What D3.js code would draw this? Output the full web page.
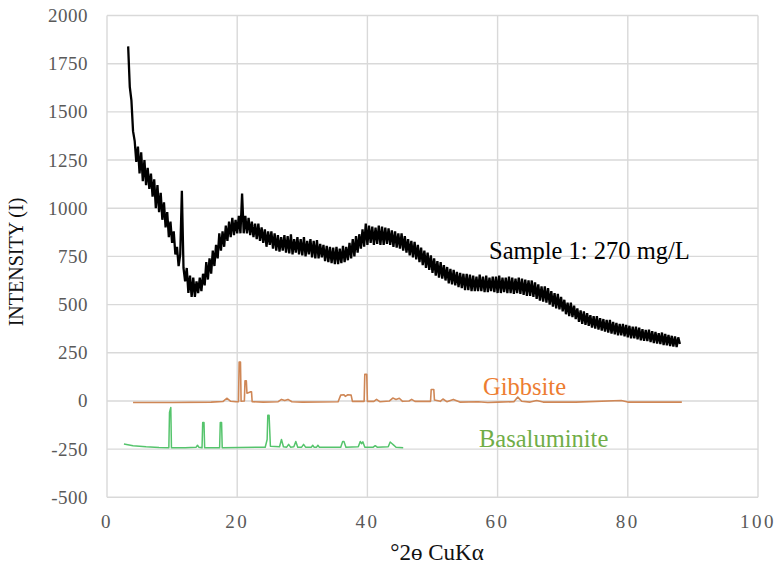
<!DOCTYPE html>
<html>
<head>
<meta charset="utf-8">
<script src="https://cdn.jsdelivr.net/npm/d3@7"></script>
<style>
	body { margin: 0; background: #fff; }
	svg { display: block; font-family: "Liberation Serif", "Times New Roman", serif; }
	.grid line { stroke: #d9d9d9; stroke-width: 1.4; }
	.tick-label { fill: #595959; font-size: 19px; font-family: "Liberation Serif", serif; }
</style>
</head>
<body>
<div id="chart"></div>
<script>
// x ticks / y ticks
var xTicks = [0, 20, 40, 60, 80, 100]
var yTicks = [-500, -250, 0, 250, 500, 750, 1000, 1250, 1500, 1750, 2000]

// Sample 1 trace, sampled every 0.25 deg from 3.25
var sampleStart = 3.25
var sampleStep = 0.25
var sampleIntensity = [
	1840, 1630, 1560, 1400, 1350, 1240, 1320, 1180,
	1290, 1140, 1250, 1120, 1210, 1100, 1180, 1060,
	1150, 1000, 1120, 980, 1080, 940, 1030, 900,
	980, 850, 930, 820, 880, 760, 800, 700,
	760, 1090, 690, 620, 690, 560, 650, 540,
	640, 540, 620, 560, 640, 570, 660, 600,
	720, 630, 740, 660, 780, 700, 810, 740,
	870, 780, 880, 800, 910, 830, 930, 850,
	950, 860, 940, 870, 960, 870, 1076, 870,
	960, 870, 950, 860, 930, 850, 920, 840,
	920, 830, 900, 820, 890, 800, 880, 810,
	880, 790, 870, 780, 860, 775, 850, 780,
	860, 770, 855, 765, 865, 760, 840, 770,
	850, 760, 840, 755, 850, 750, 830, 760,
	840, 745, 830, 740, 835, 740, 815, 745,
	810, 725, 805, 720, 800, 715, 795, 710,
	800, 710, 790, 715, 805, 720, 800, 730,
	820, 740, 840, 750, 855, 770, 865, 790,
	890, 800, 920, 810, 910, 820, 905, 810,
	900, 815, 910, 810, 905, 810, 900, 815,
	895, 810, 885, 800, 880, 795, 870, 790,
	870, 780, 855, 770, 840, 755, 830, 745,
	825, 735, 810, 720, 795, 705, 780, 690,
	770, 680, 755, 665, 740, 650, 725, 640,
	720, 635, 705, 625, 695, 610, 685, 605,
	680, 600, 670, 590, 665, 585, 660, 575,
	660, 575, 655, 570, 650, 570, 645, 570,
	655, 570, 645, 565, 650, 565, 640, 570,
	645, 565, 645, 560, 650, 560, 640, 565,
	640, 560, 645, 560, 640, 555, 635, 560,
	640, 555, 635, 550, 630, 545, 625, 545,
	625, 540, 615, 530, 605, 520, 595, 515,
	595, 510, 585, 500, 570, 490, 560, 480,
	555, 475, 540, 465, 525, 450, 510, 440,
	510, 435, 495, 425, 480, 410, 470, 400,
	465, 395, 455, 390, 445, 380, 440, 375,
	440, 370, 430, 365, 425, 360, 420, 355,
	420, 350, 410, 345, 405, 340, 400, 340,
	400, 335, 395, 330, 390, 325, 385, 325,
	385, 320, 380, 315, 372, 312, 368, 310,
	370, 305, 362, 300, 358, 298, 352, 295,
	355, 290, 348, 288, 342, 285, 338, 282,
	335, 280, 330, 295
]

// Gibbsite reference pattern
var gibbsiteAngle = [4.0, 10, 16, 17.8, 18.4, 19.0, 19.8, 20.2, 20.3, 20.5, 20.6, 21.1, 21.2, 21.4, 21.5, 21.9, 22.0, 22.2, 22.3, 24,
	26.3, 26.8, 27.3, 27.8, 28.4, 30, 35.5, 35.9, 36.4, 36.6, 37.0, 37.5, 37.7, 39.5, 39.6, 39.9, 40.0, 41.0, 41.4, 41.9,
	43.4, 43.9, 44.4, 44.9, 45.4, 46.4, 46.8, 47.3, 49.7, 49.8, 50.2, 50.3, 51.2, 51.6, 52.2, 53.2, 54.2, 57, 58.5, 60,
	62.5, 63.1, 63.7, 65, 66, 67, 72, 79, 80, 88.3]
var gibbsiteIntensity = [-8, -8, -6, -3, 14, -2, -4, -4, 202, 202, -2, 0, 104, 104, 40, 45, 47, 47, -4, -6,
	-4, 8, 2, 8, -4, -6, -4, 30, 32, 24, 32, 30, -2, -2, 138, 138, -2, -2, 8, -4,
	0, 15, 8, 14, -2, 0, 8, -2, -2, 59, 59, 5, -2, 10, -4, 8, -6, -4, -8, -6,
	-4, 20, -2, -6, 2, -6, -6, 2, -6, -6]

// Basaluminite reference pattern
var basalAngle = [2.6, 4, 6, 8, 9.5, 9.6, 9.8, 9.9, 12, 13.7, 13.9, 14.1, 14.6, 14.7, 14.9, 15.0, 17.3, 17.4, 17.6, 17.7,
	24.3, 24.6, 24.7, 24.9, 25.1, 26.5, 26.8, 27.1, 27.6, 27.9, 28.2, 28.7, 29.0, 29.3, 29.9, 30.2, 30.5, 31.4, 31.6, 31.8,
	32.2, 32.4, 32.6, 35.9, 36.2, 36.4, 36.7, 38.6, 38.9, 39.1, 39.3, 39.6, 40.9, 41.2, 41.5, 43.2, 43.5, 43.8, 44.0, 44.4, 45.5]
var basalIntensity = [-224, -232, -238, -242, -243, -60, -34, -243, -243, -240, -230, -240, -243, -112, -112, -243, -243, -112, -112, -243,
	-240, -200, -74, -74, -235, -238, -200, -238, -240, -225, -240, -238, -210, -240, -240, -225, -240, -240, -230, -240,
	-240, -230, -240, -240, -210, -210, -240, -238, -210, -222, -212, -240, -240, -232, -240, -238, -213, -222, -228, -240, -243]

var width = 777
var height = 573
var plot = {left: 107, right: 758, top: 15.5, bottom: 497.3}

var svg = d3.select("#chart")
	.append("svg")
		.attr("width", width)
		.attr("height", height)

var x = d3.scaleLinear().domain([0, 100]).range([plot.left, plot.right])
var y = d3.scaleLinear().domain([-500, 2000]).range([plot.bottom, plot.top])

var grid = svg.append("g").attr("class", "grid")
grid.selectAll("line.v")
	.data(xTicks)
	.enter()
	.append("line")
		.attr("class", "v")
		.attr("x1", x).attr("x2", x)
		.attr("y1", plot.top).attr("y2", plot.bottom)
grid.selectAll("line.h")
	.data(yTicks)
	.enter()
	.append("line")
		.attr("class", "h")
		.attr("y1", y).attr("y2", y)
		.attr("x1", plot.left).attr("x2", plot.right)

// y tick labels
svg.append("g").selectAll("text")
	.data(yTicks)
	.enter()
	.append("text")
		.attr("class", "tick-label")
		.attr("x", 88)
		.attr("y", (d) => y(d) + 6.5)
		.attr("text-anchor", "end")
		.style("letter-spacing", "0.5px")
		.text((d) => d)

// x tick labels
svg.append("g").selectAll("text")
	.data(xTicks)
	.enter()
	.append("text")
		.attr("class", "tick-label")
		.attr("x", (d) => x(d))
		.attr("y", 528)
		.attr("text-anchor", "middle")
		.style("letter-spacing", "2.5px")
		.text((d) => d)

var line = d3.line().x((d) => x(d[0])).y((d) => y(d[1]))

var gibbsite = gibbsiteAngle.map((a, i) => [a, gibbsiteIntensity[i]])
svg.append("path")
	.attr("d", line(gibbsite))
	.attr("fill", "none")
	.attr("stroke", "#cf8756")
	.attr("stroke-width", 1.6)
	.attr("stroke-linejoin", "round")

var basal = basalAngle.map((a, i) => [a, basalIntensity[i]])
svg.append("path")
	.attr("d", line(basal))
	.attr("fill", "none")
	.attr("stroke", "#55c46c")
	.attr("stroke-width", 1.5)
	.attr("stroke-linejoin", "round")

var sample = sampleIntensity.map((v, i) => [sampleStart + i * sampleStep, v])
svg.append("path")
	.attr("d", line(sample))
	.attr("fill", "none")
	.attr("stroke", "#000")
	.attr("stroke-width", 2.3)
	.attr("stroke-linejoin", "miter")

// annotations
svg.append("text")
	.attr("x", 489).attr("y", 259)
	.style("font-size", "24.5px")
	.attr("fill", "#000")
	.text("Sample 1: 270 mg/L")
svg.append("text")
	.attr("x", 483).attr("y", 395)
	.style("font-size", "24.5px")
	.attr("fill", "#ed7d31")
	.text("Gibbsite")
svg.append("text")
	.attr("x", 479).attr("y", 447)
	.style("font-size", "24.5px")
	.attr("fill", "#70ad47")
	.text("Basaluminite")

// axis titles
svg.append("text")
	.attr("x", 437).attr("y", 560)
	.attr("text-anchor", "middle")
	.style("font-size", "23px")
	.attr("fill", "#111")
	.text("°2ɵ CuKα")
svg.append("text")
	.attr("transform", "translate(23, 262) rotate(-90)")
	.attr("text-anchor", "middle")
	.style("font-size", "20px")
	.attr("fill", "#111")
	.text("INTENSITY (I)")
</script>
</body>
</html>
